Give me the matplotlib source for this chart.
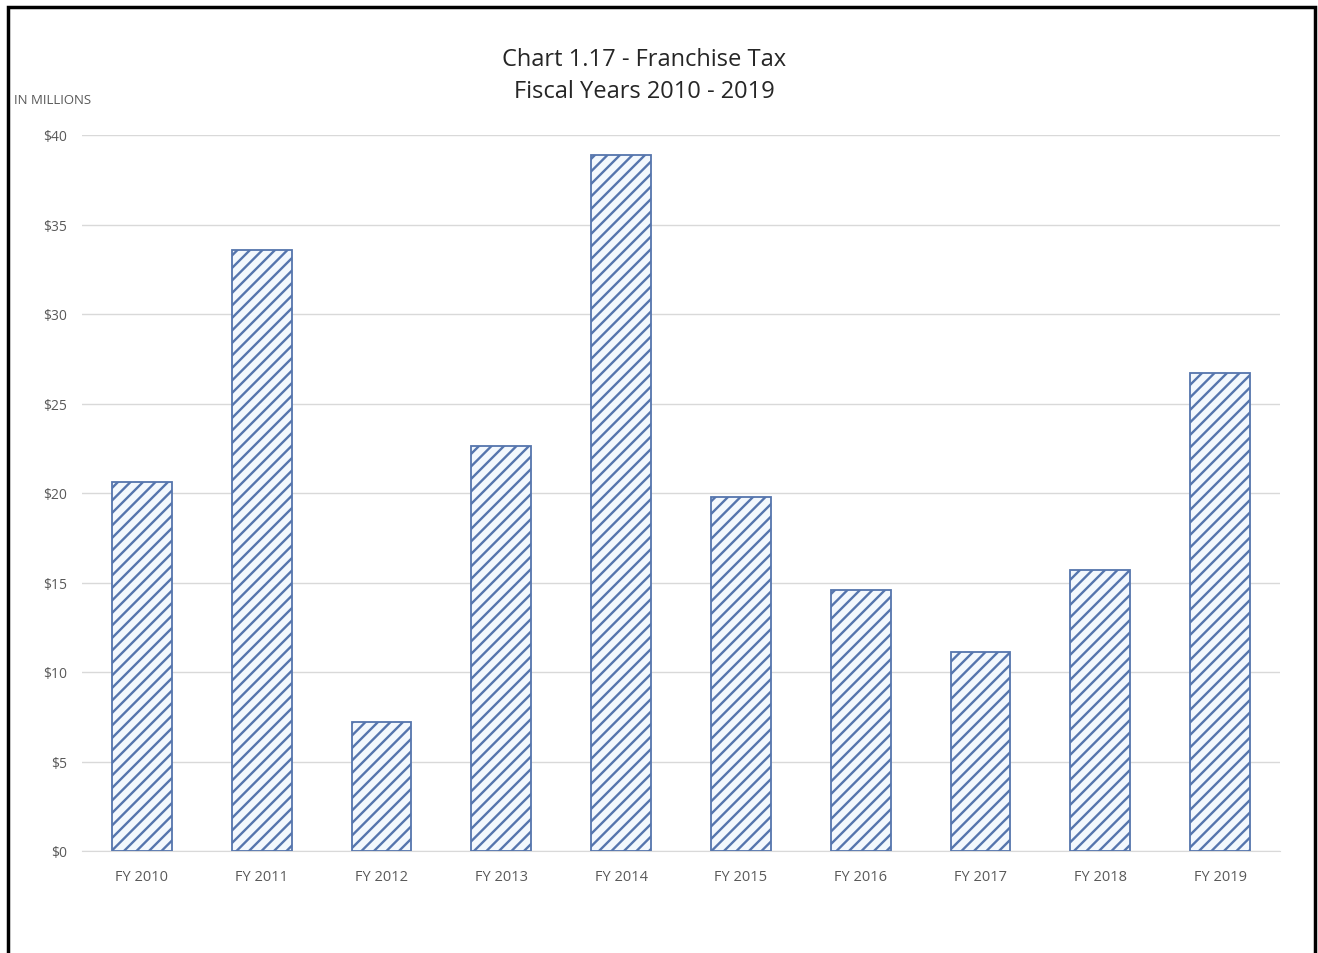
import matplotlib.pyplot as plt
from matplotlib.backend_bases import GraphicsContextBase
from matplotlib.patches import Rectangle

years = ["FY 2010", "FY 2011", "FY 2012", "FY 2013", "FY 2014",
         "FY 2015", "FY 2016", "FY 2017", "FY 2018", "FY 2019"]
revenue = [20.6, 33.6, 7.2, 22.6, 38.9, 19.8, 14.6, 11.1, 15.7, 26.7]
yticks = [0, 5, 10, 15, 20, 25, 30, 35, 40]

BLUE = "#4A72B4"
GRAY = "#595959"

# slightly denser hatch than the default "//" spacing
GraphicsContextBase.get_hatch_path.__defaults__ = (8.5,)

plt.rcParams["font.family"] = ["Open Sans", "DejaVu Sans"]
plt.rcParams["hatch.linewidth"] = 1.7
plt.rcParams["hatch.color"] = BLUE

fig = plt.figure(figsize=(13.18, 9.54), dpi=100)
ax = fig.add_axes([82 / 1318, 102 / 954, 1198 / 1318, 716 / 954])

x = range(len(years))
ax.bar(x, revenue, width=0.5, color="#F3F8FD", edgecolor="#5575AD",
       hatch="//", linewidth=1.3, zorder=3)

ax.set_xlim(-0.5, len(years) - 0.5)
ax.set_ylim(0, 40)
ax.set_yticks(yticks)
ax.set_yticklabels([f"${v}" for v in yticks])
ax.set_xticks(list(x))
ax.set_xticklabels(years)
ax.tick_params(axis="both", length=0, labelsize=10.5, colors=GRAY)
ax.tick_params(axis="y", pad=11, labelsize=10)
ax.tick_params(axis="x", pad=13)
ax.grid(axis="y", color="#d9d9d9", linewidth=1, zorder=0)
for side in ["top", "right", "left"]:
    ax.spines[side].set_visible(False)
ax.spines["bottom"].set_color("#d9d9d9")

fig.text(0.489, 0.920, "Chart 1.17 - Franchise Tax\nFiscal Years 2010 - 2019",
         ha="center", va="center", fontsize=17, color="#262626",
         linespacing=1.45)
fig.text(14 / 1318, 1 - 100 / 954, "IN MILLIONS", ha="left", va="center",
         fontsize=9.5, color=GRAY)

fig.patches.append(Rectangle((8 / 1318, -0.05), 1307 / 1318, 1.05 - 8 / 954,
                             transform=fig.transFigure, fill=False,
                             edgecolor="black", linewidth=2.5))

fig.savefig("out.png", dpi=100)
